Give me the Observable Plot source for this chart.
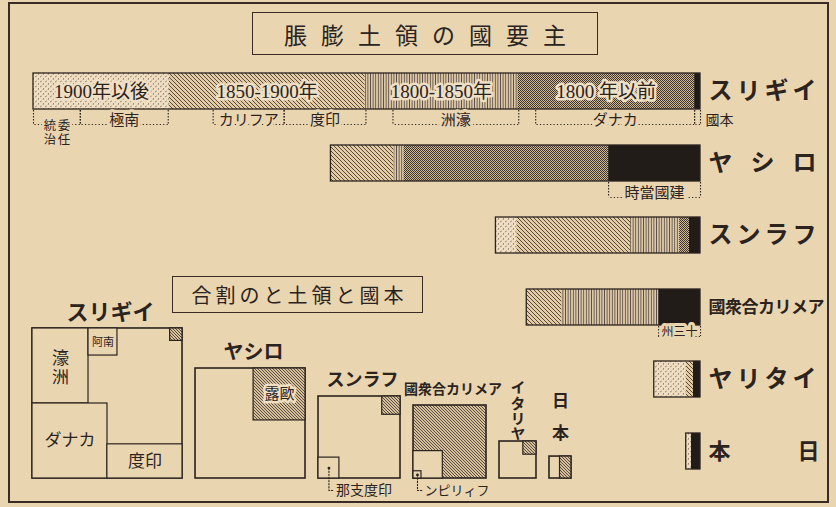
<!DOCTYPE html>
<html><head><meta charset="utf-8">
<script src="https://cdn.jsdelivr.net/npm/d3@7"></script>
<script src="https://cdn.jsdelivr.net/npm/@observablehq/plot@0.6"></script>
<style>
html,body{margin:0;padding:0;background:#ead5b1;}
#wrap{position:relative;width:836px;height:507px;overflow:hidden;background:#ead5b1;font-family:"Noto Sans CJK JP",sans-serif;color:#2b231e;}
.layer{position:absolute;left:0;top:0;}
#frame{position:absolute;left:8px;top:2px;width:821px;height:501px;border:2px solid #3a2c24;box-sizing:border-box;}
.box{position:absolute;border:1.6px solid #3a2c24;box-sizing:border-box;display:flex;align-items:center;justify-content:center;color:#2b231e;white-space:nowrap;}
</style></head>
<body><div id="wrap">
<svg width="0" height="0" style="position:absolute">
<defs>
<pattern id="pDot" width="5" height="5" patternUnits="userSpaceOnUse">
  <rect width="5" height="5" fill="#efdec2"/>
  <path d="M0.4,1.8 l1.1,-0.7 M2.9,4.3 l1.1,-0.7" stroke="#4a3d34" stroke-width="0.9"/>
</pattern>
<pattern id="pDiag" width="4" height="4" patternUnits="userSpaceOnUse">
  <rect width="4" height="4" fill="#e2cba5"/>
  <path d="M-1,-1 L5,5 M-1,3 L1,5 M3,-1 L5,1" stroke="#3c312a" stroke-width="0.85"/>
</pattern>
<pattern id="pVert" width="2.6" height="4" patternUnits="userSpaceOnUse">
  <rect width="2.6" height="4" fill="#dcc8a6"/>
  <line x1="1.3" y1="0" x2="1.3" y2="4" stroke="#5d5048" stroke-width="0.9"/>
</pattern>
<pattern id="pCross" width="2" height="2" patternUnits="userSpaceOnUse">
  <rect width="2" height="2" fill="#cdb99a"/>
  <rect width="1" height="1" fill="#3e342d"/><rect x="1" y="1" width="1" height="1" fill="#3e342d"/>
</pattern>
<pattern id="pHatch" width="3" height="3" patternUnits="userSpaceOnUse">
  <rect width="3" height="3" fill="#d6c09c"/>
  <path d="M-1,-1 L4,4 M-1,2 L1,4 M2,-1 L4,1" stroke="#3c312a" stroke-width="0.8"/>
</pattern>
</defs></svg>
<div id="frame"></div>
<div class="box" style="left:252px;top:12px;width:346px;height:43px;font-size:23px;letter-spacing:14px;padding-left:14px;">脹膨土領の國要主</div>
<div class="box" style="left:172px;top:276px;width:251px;height:37px;font-size:20px;letter-spacing:4px;padding-left:4px;">合割のと土領と國本</div>
<div id="a" class="layer"></div>
<div id="b" class="layer"></div>
</div>
<script>
// ---------- data (areas in 万km²) ----------
const countries = ["イギリス","ロシヤ","フランス","アメリカ合衆國","イタリヤ","日本"];
const countryLabels = ["スリギイ","ヤシロ","スンラフ","國衆合カリメア","ヤリタイ","本日"];
const periods = ["本國","1800年以前","1800-1850年","1850-1900年","1900年以後"];
const periodLabels = ["","1800 年以前","1800-1850年","1850-1900年","1900年以後"];
const areaUK     = [31, 929, 803, 1028, 714];
const areaRussia = [483, 1076, 52, 331, 0];
const areaFrance = [58, 52, 257, 598, 110];
const areaUSA    = [220, 0, 509, 184, 0];
const areaItaly  = [38, 0, 0, 37, 168];
const areaJapan  = [48, 0, 0, 0, 27];

// bracket annotations under the bars (cumulative area from the home-country end)
const annoCountry = ["イギリス","イギリス","イギリス","イギリス","イギリス","イギリス","イギリス","ロシヤ","アメリカ合衆國"];
const annoLabel   = ["國本","ダナカ","洲濠","度印","カリフア","極南","統委\n治任","時當國建","州三十"];
const annoFrom    = [0, 31, 955, 1758, 2188, 2797, 3259, 0, 0];
const annoTo      = [31, 866, 1616, 2188, 2561, 3259, 3505, 483, 220];

// lower diagram: squares of total area and their parts
const sqLabels = ["スリギイ","ヤシロ","スンラフ","國衆合カリメア","イタリヤ","日本"];
const sqTotal  = [3505, 1884, 1047, 830, 213, 75];
const pieceCountry = ["イギリス","イギリス","イギリス","イギリス","イギリス","ロシヤ","フランス","フランス","アメリカ合衆國","アメリカ合衆國","イタリヤ","日本"];
const pieceName    = ["濠洲","南阿","本國","カナダ","印度","本國","本國","印度支那","アラスカ","フィリピン","本國","本國"];
const pieceText    = ["濠洲","阿南","","ダナカ","度印","露歐","","那支度印","","ンピリィフ","",""];
const pieceArea    = [654, 122, 24, 876, 400, 420, 52, 68, 125, 9, 27, 39];

// ---------- styles / layout ----------
const ink = "#2b231e", paper = "#ead5b1", light = "#efdfc4";
const periodFill = {"本國":"#221c18","1800年以前":"url(#pCross)","1800-1850年":"url(#pVert)","1850-1900年":"url(#pDiag)","1900年以後":"url(#pDot)"};
const labelSize = [24,24,24,17,24,22];
const labelSpacing = [4,18,4,-0.5,4,0];

function setVertical(node, ls) {
  node.style.writingMode = "vertical-rl";
  node.setAttribute("dy", "0");
  node.setAttribute("dominant-baseline", "central");
  if (ls) node.setAttribute("letter-spacing", ls);
}

const areas = [areaUK, areaRussia, areaFrance, areaUSA, areaItaly, areaJapan];
const segs = [];
countries.forEach((c,i) => periods.forEach((p,j) => { if (areas[i][j] > 0) segs.push({country:c, period:p, value:areas[i][j]}); }));
const totals = countries.map((c,i) => ({country:c, total:d3.sum(areas[i]), label:countryLabels[i], i}));
let acc = 0;
const ukLab = periods.map((p,j) => { const a = acc; acc += areaUK[j]; return {country:"イギリス", text:periodLabels[j], x:(a+acc)/2}; }).filter(d => d.text);
const annos = annoLabel.map((t,i) => ({country:annoCountry[i], text:t, x1:annoFrom[i], x2:annoTo[i]}));
const annoStyle = {"イギリス":{dy:33, fs:15}, "ロシヤ":{dy:34, fs:15}, "アメリカ合衆國":{dy:29, fs:12}};

// two-row labels are set as vertical columns (right column first in reading order)
const colTexts = new Set();
const annoMarks = [];
for (const [c, st] of Object.entries(annoStyle)) {
  const A = annos.filter(d => d.country === c);
  const L = st.dy - 19;
  const ticks = A.flatMap(d => [{country:c, x:d.x1}, {country:c, x:d.x2}]);
  const cols = A.filter(d => d.text.includes("\n")).flatMap(d => {
    const rows = d.text.split("\n");
    return [0, 1].map(k => { const t = rows.map(r => r[k]).join(""); colTexts.add(t); return {country:c, text:t, k, x:(d.x1+d.x2)/2}; });
  });
  annoMarks.push(
    Plot.ruleY(A, {y:"country", x1:"x1", x2:"x2", dy:st.dy, stroke:ink, strokeWidth:1.1, strokeDasharray:"1.2,2.2"}),
    Plot.tickX(ticks, {x:"x", y:"country", insetTop:36 - L, insetBottom:0, dy:st.dy - 18, stroke:ink, strokeWidth:1.1, strokeDasharray:"1.5,1.5"}),
    Plot.text(A.filter(d => d.text !== "國本" && !d.text.includes("\n")), {x:d => (d.x1+d.x2)/2, y:"country", text:"text", dy:st.dy - 4, fontSize:st.fs, fill:ink, stroke:paper, strokeWidth:6}),
    Plot.text(cols.filter(d => d.k === 0), {x:"x", y:"country", text:"text", dx:-7, dy:st.dy + 4, fontSize:12.5, fill:ink, stroke:paper, strokeWidth:5}),
    Plot.text(cols.filter(d => d.k === 1), {x:"x", y:"country", text:"text", dx:7, dy:st.dy + 4, fontSize:12.5, fill:ink, stroke:paper, strokeWidth:5}),
    Plot.text(A.filter(d => d.text === "國本"), {x:0, y:"country", text:"text", dy:st.dy - 4, dx:5, textAnchor:"start", fontSize:14, fill:ink})
  );
}

// Japan's right-hand label is set with its two characters far apart
const jpChars = Array.from(countryLabels[5]).map((ch,k) => ({country:"日本", ch, k}));

const chartA = Plot.plot({
  width:836, height:507, marginLeft:33, marginRight:136, marginTop:55, marginBottom:20,
  x:{domain:[0, d3.max(totals, d => d.total)], reverse:true, axis:null},
  y:{domain:countries, paddingInner:0.5, paddingOuter:0.25, axis:null},
  color:{type:"identity"},
  style:{background:"transparent", fontFamily:"'Noto Sans CJK JP', sans-serif", color:ink, overflow:"visible"},
  marks:[
    Plot.barX(segs, Plot.stackX({x:"value", y:"country", fill:d => periodFill[d.period]})),
    Plot.barX(totals, {x1:0, x2:"total", y:"country", fill:"none", stroke:ink, strokeWidth:1.3}),
    Plot.text(ukLab, {x:"x", y:"country", text:"text", fontSize:19, fontFamily:"'Liberation Serif','Noto Sans CJK JP',serif", fill:ink, stroke:light, strokeWidth:5}),
    Plot.text(totals.filter(d => d.country !== "日本"), {x:0, y:"country", text:"label", dx:8, textAnchor:"start", fontSize:d => labelSize[d.i], fontWeight:700, fill:ink}),
    Plot.text(jpChars.filter(d => d.k === 0), {x:0, y:"country", text:"ch", dx:8, textAnchor:"start", fontSize:22, fontWeight:700, fill:ink}),
    Plot.text(jpChars.filter(d => d.k === 1), {x:0, y:"country", text:"ch", dx:97, textAnchor:"start", fontSize:22, fontWeight:700, fill:ink}),
    ...annoMarks
  ]
});
d3.select(chartA).selectAll("text").each(function() {
  const k = countryLabels.indexOf(this.textContent);
  if (k >= 0 && labelSpacing[k]) this.setAttribute("letter-spacing", labelSpacing[k]);
  if (colTexts.has(this.textContent)) setVertical(this, 1);
});
document.getElementById("a").appendChild(chartA);

// ---------- lower diagram ----------
const K = 2.534;               // px per √(万km²)
const base = 478 / K, gap = 13 / K;
let cx = 32 / K;
const squares = countries.map((c,i) => {
  const s = Math.sqrt(sqTotal[i]);
  const q = {country:c, label:sqLabels[i], s, x1:cx, x2:cx+s, y1:base-s, y2:base, i};
  cx += s + gap;
  return q;
});
const sqOf = Object.fromEntries(squares.map(q => [q.country, q]));
const layout = {
  "イギリス/濠洲":{anchor:"tl", aspect:0.747},
  "イギリス/南阿":{anchor:"tl", aspect:1.07, after:"イギリス/濠洲"},
  "イギリス/本國":{anchor:"tr", aspect:1},
  "イギリス/カナダ":{anchor:"bl", aspect:1},
  "イギリス/印度":{anchor:"br", aspect:2.2},
  "ロシヤ/本國":{anchor:"tr", aspect:1},
  "フランス/本國":{anchor:"tr", aspect:1},
  "フランス/印度支那":{anchor:"bl", aspect:1},
  "アメリカ合衆國/アラスカ":{anchor:"bl", aspect:1.07},
  "アメリカ合衆國/フィリピン":{anchor:"bl", aspect:1.1},
  "イタリヤ/本國":{anchor:"tr", aspect:1},
  "日本/本國":{anchor:"r"}
};
const pieceById = {};
const pieces = pieceName.map((n,i) => {
  const q = sqOf[pieceCountry[i]], id = pieceCountry[i] + "/" + n, L = layout[id], a = pieceArea[i];
  let w, h;
  if (L.anchor === "r") { h = q.s; w = a / h; } else { w = Math.sqrt(a * L.aspect); h = a / w; }
  let x1, y1;
  if (L.anchor === "tl") { x1 = q.x1 + (L.after ? pieceById[L.after].x2 - q.x1 : 0); y1 = q.y1; }
  else if (L.anchor === "tr" || L.anchor === "r") { x1 = q.x2 - w; y1 = q.y1; }
  else if (L.anchor === "bl") { x1 = q.x1; y1 = q.y2 - h; }
  else { x1 = q.x2 - w; y1 = q.y2 - h; }
  const p = {id, name:n, country:pieceCountry[i], text:pieceText[i], x1, x2:x1+w, y1, y2:y1+h, home:n === "本國"};
  pieceById[id] = p;
  return p;
});
const hasHome = new Set(pieces.filter(p => p.home).map(p => p.country));
const leaderNames = new Set(["印度支那","フィリピン"]);
const inside = pieces.filter(p => p.text && !leaderNames.has(p.name));
const insideSize = {"濠洲":17, "南阿":11, "カナダ":17, "印度":17, "本國":15};
const leaders = pieces.filter(p => leaderNames.has(p.name));
const yL = 490 / K;
const leaderPts = leaders.flatMap(p => { const px = (p.x1+p.x2)/2, py = (p.y1+p.y2)/2; return [{z:p.name, x:px, y:py}, {z:p.name, x:px, y:yL}, {z:p.name, x:px + 5/K, y:yL}]; });

const vertical = new Set(["イタリヤ","日本"]);
const horiz = squares.filter(q => !vertical.has(q.country));
const hSize = [22, 20, 18, 14];
const vertStyle = {"イタリヤ":{fs:15, ls:0.4, off:35.5}, "日本":{fs:17, ls:15, off:38}};
const chartB = Plot.plot({
  width:836, height:507, margin:0,
  x:{domain:[0, 836/K], range:[0, 836], axis:null},
  y:{domain:[0, 507/K], range:[0, 507], axis:null},
  color:{type:"identity"},
  style:{background:"transparent", fontFamily:"'Noto Sans CJK JP', sans-serif", color:ink, overflow:"visible"},
  marks:[
    Plot.rect(squares, {x1:"x1", x2:"x2", y1:"y1", y2:"y2", fill:d => hasHome.has(d.country) ? paper : "url(#pHatch)", stroke:ink, strokeWidth:1.6}),
    Plot.rect(pieces, {x1:"x1", x2:"x2", y1:"y1", y2:"y2", fill:d => d.home ? "url(#pHatch)" : paper, stroke:ink, strokeWidth:1.2}),
    Plot.text(inside, {x:d => (d.x1+d.x2)/2, y:d => (d.y1+d.y2)/2 - (d.name === "濠洲" ? 3/K : 0), text:"text", fontSize:d => insideSize[d.name], fill:ink, stroke:d => d.home ? light : "none", strokeWidth:5}),
    Plot.line(leaderPts, {x:"x", y:"y", z:"z", stroke:ink, strokeWidth:1.1, strokeDasharray:"1.3,1.8"}),
    Plot.dot(leaders, {x:d => (d.x1+d.x2)/2, y:d => (d.y1+d.y2)/2, r:1.4, fill:ink}),
    Plot.text(leaders, {x:d => (d.x1+d.x2)/2 + 7/K, y:yL, text:"text", textAnchor:"start", fontSize:d => d.name === "フィリピン" ? 13 : 14, fill:ink}),
    Plot.text(horiz, {x:d => (d.x1+d.x2)/2 + 3/K, y:d => d.y1 - 16/K, text:"label", fontSize:d => hSize[d.i], fontWeight:700, fill:ink}),
    Plot.text(squares.filter(q => vertical.has(q.country)), {x:d => (d.x1+d.x2)/2, y:d => d.y1 - vertStyle[d.country].off/K, text:"label", fontSize:d => vertStyle[d.country].fs, fontWeight:700, fill:ink})
  ]
});
// vertical writing for the labels that the reference sets in columns
d3.select(chartB).selectAll("text").each(function() {
  const q = squares.find(q => vertical.has(q.country) && q.label === this.textContent);
  if (q) setVertical(this, vertStyle[q.country].ls);
  if (this.textContent === pieceText[0]) setVertical(this, 2);
});
document.getElementById("b").appendChild(chartB);
</script>
</body></html>
